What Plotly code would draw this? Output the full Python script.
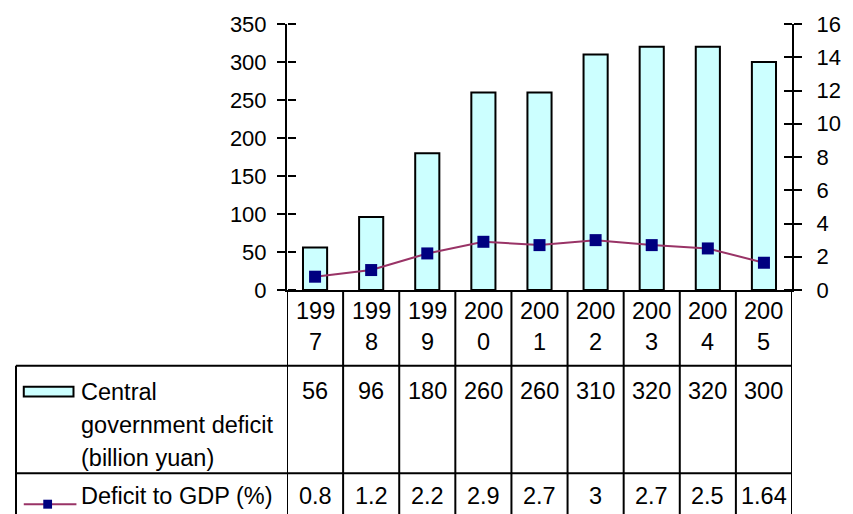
import plotly.graph_objects as go

years = ["1997", "1998", "1999", "2000", "2001", "2002", "2003", "2004", "2005"]
deficit = [56, 96, 180, 260, 260, 310, 320, 320, 300]
deficit_labels = ["56", "96", "180", "260", "260", "310", "320", "320", "300"]
ratio = [0.8, 1.2, 2.2, 2.9, 2.7, 3, 2.7, 2.5, 1.64]
ratio_labels = ["0.8", "1.2", "2.2", "2.9", "2.7", "3", "2.7", "2.5", "1.64"]
left_ticks = [0, 50, 100, 150, 200, 250, 300, 350]
right_ticks = [0, 2, 4, 6, 8, 10, 12, 14, 16]

W, H = 853, 514
L, R, T, B = 287, 805, 23, 290
FONT = "Liberation Sans, Arial, sans-serif"
FS_AX = 22
FS_TB = 23.5
FILL = "#CCFFFF"
LINEC = "#993366"
MARKC = "#000080"


def px(x):
    return (x - L) / (R - L)


def py(y):
    return (B - y) / (B - T)


idx = list(range(len(years)))
fig = go.Figure()
fig.add_trace(go.Bar(x=idx, y=deficit, marker=dict(color=FILL, line=dict(color="black", width=2)),
                     yaxis="y", showlegend=False))
fig.add_trace(go.Scatter(x=idx, y=ratio, mode="lines+markers", yaxis="y2",
                         line=dict(color=LINEC, width=2),
                         marker=dict(symbol="square", size=12, color=MARKC, line=dict(width=0)),
                         showlegend=False))
# helper traces so that the inward half of the cross ticks is drawn
fig.add_trace(go.Scatter(x=[idx[0]], y=[0], xaxis="x", yaxis="y3", mode="markers",
                         marker=dict(opacity=0), showlegend=False, hoverinfo="skip"))
fig.add_trace(go.Scatter(x=[idx[0]], y=[0], xaxis="x", yaxis="y4", mode="markers",
                         marker=dict(opacity=0), showlegend=False, hoverinfo="skip"))

shapes = []
for k in range(len(years) + 1):
    shapes.append(dict(type="line", xref="x", yref="paper", x0=k - 0.5, x1=k - 0.5,
                       y0=0, y1=py(530), line=dict(color="black", width=2)))
shapes.append(dict(type="line", xref="paper", yref="paper", x0=px(9), x1=px(9),
                   y0=py(366), y1=py(530), line=dict(color="black", width=2)))
for yy in (366, 474):
    shapes.append(dict(type="line", xref="paper", yref="paper", x0=px(9), x1=1,
                       y0=py(yy), y1=py(yy), line=dict(color="black", width=2)))
shapes.append(dict(type="rect", xref="paper", yref="paper", x0=px(17), x1=px(68),
                   y0=py(397), y1=py(387), fillcolor=FILL, line=dict(color="black", width=2)))
shapes.append(dict(type="line", xref="paper", yref="paper", x0=px(17), x1=px(71),
                   y0=py(505), y1=py(505), line=dict(color=LINEC, width=2)))
shapes.append(dict(type="rect", xref="paper", yref="paper", x0=px(37), x1=px(46),
                   y0=py(509.5), y1=py(500.5), fillcolor=MARKC, line=dict(width=0)))

ann = []
def text(x, y, s, xref="x", xanchor="center"):
    ann.append(dict(x=x, y=py(y), xref=xref, yref="paper", text=s, showarrow=False,
                    xanchor=xanchor, yanchor="middle", borderpad=0,
                    font=dict(family=FONT, size=FS_TB, color="black")))

for i, yr in enumerate(years):
    text(i, 311, yr[:3])
    text(i, 342, yr[3:])
    text(i, 391, deficit_labels[i])
    text(i, 497, ratio_labels[i])

text(px(75), 392, "Central", xref="paper", xanchor="left")
text(px(75), 426, "government deficit", xref="paper", xanchor="left")
text(px(75), 459, "(billion yuan)", xref="paper", xanchor="left")
text(px(75), 497, "Deficit to GDP (%)", xref="paper", xanchor="left")

axis_font = dict(family=FONT, size=FS_AX, color="black")
fig.update_layout(
    width=W, height=H,
    margin=dict(l=L, r=W - R, t=T, b=H - B, pad=0),
    plot_bgcolor="white", paper_bgcolor="white",
    bargap=0.57,
    xaxis=dict(range=[-0.5, len(years) - 0.5], showticklabels=False, ticks="",
               showline=True, linecolor="black", linewidth=2, showgrid=False, zeroline=False),
    yaxis=dict(range=[0, 350], tickvals=left_ticks, ticks="outside", ticklen=8, tickwidth=2,
               tickcolor="black", showline=True, linecolor="black", linewidth=2,
               showgrid=False, zeroline=False, tickfont=axis_font, ticklabelstandoff=6),
    yaxis2=dict(range=[0, 16], tickvals=right_ticks, overlaying="y", side="right", anchor="x",
                ticks="outside", ticklen=8, tickwidth=2, tickcolor="black",
                showline=True, linecolor="black", linewidth=2, showgrid=False,
                zeroline=False, tickfont=axis_font, ticklabelstandoff=10),
    # inward halves of the cross ticks: mirrored-side axes placed on the same lines
    yaxis3=dict(range=[0, 350], tickvals=left_ticks, overlaying="y", side="right",
                anchor="free", position=0,
                ticks="outside", ticklen=8, tickwidth=2, tickcolor="black",
                showticklabels=False, showline=False, showgrid=False, zeroline=False),
    yaxis4=dict(range=[0, 16], tickvals=right_ticks, overlaying="y", side="left",
                anchor="free", position=1,
                ticks="outside", ticklen=8, tickwidth=2, tickcolor="black",
                showticklabels=False, showline=False, showgrid=False, zeroline=False),
    shapes=shapes, annotations=ann, showlegend=False,
)
fig.write_html("out.html")
